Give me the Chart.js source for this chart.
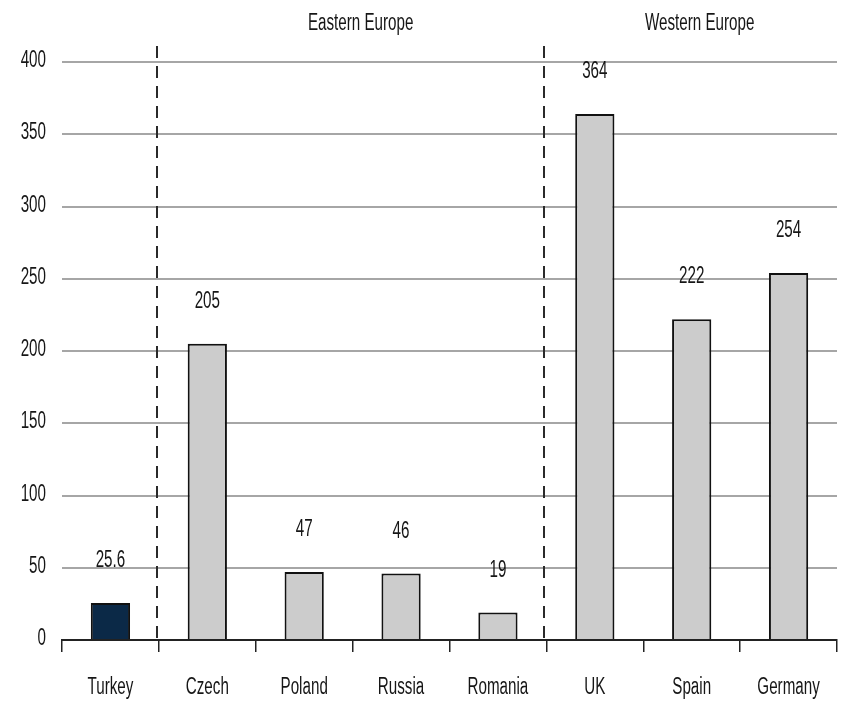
<!DOCTYPE html>
<html lang="en">
<head>
    <meta charset="UTF-8">
    <title>Eastern vs Western Europe</title>
    <script src="https://cdn.jsdelivr.net/npm/chart.js"></script>
    <style>
        html, body {
            margin: 0;
            padding: 0;
            background: #ffffff;
        }
        .chart-box {
            position: relative;
            width: 842px;
            height: 709px;
        }
    </style>
</head>
<body>
    <div class="chart-box">
        <canvas id="europeChart"></canvas>
    </div>

    <script>
        const countries = ['Turkey', 'Czech', 'Poland', 'Russia', 'Romania', 'UK', 'Spain', 'Germany'];
        const values = [25.6, 205, 47, 46, 19, 364, 222, 254];
        const yTicks = [0, 50, 100, 150, 200, 250, 300, 350, 400];
        // groups: label, first and last category index
        const groupNames = ['Eastern Europe', 'Western Europe'];
        const groupStart = [1, 5];
        const groupEnd = [4, 7];

        const FONT = '23px "Liberation Sans", Arial, sans-serif';
        const NARROW = 0.66;   // horizontal squeeze for a narrow face
        const TEXT_COLOR = '#161616';
        const barColors = countries.map(c => c === 'Turkey' ? '#0b2947' : '#cccccc');

        // narrow text: regular face squeezed horizontally
        function narrowText(ctx, text, x, y, align) {
            ctx.save();
            ctx.translate(x, y);
            ctx.scale(NARROW, 1);
            ctx.textAlign = align || 'center';
            ctx.textBaseline = 'alphabetic';
            ctx.fillText(text, 0, 0);
            ctx.restore();
        }

        const textLayer = {
            id: 'textLayer',
            afterDraw(chart) {
                const ctx = chart.ctx;
                const x = chart.scales.x;
                const y = chart.scales.y;
                const bottom = chart.chartArea.bottom;
                const half = (x.getPixelForValue(1) - x.getPixelForValue(0)) / 2;
                ctx.save();
                ctx.font = FONT;
                ctx.fillStyle = TEXT_COLOR;

                // y tick labels
                yTicks.forEach(v => {
                    narrowText(ctx, String(v), 46, y.getPixelForValue(v) + 5, 'right');
                });

                // category labels under the axis
                countries.forEach((c, i) => {
                    narrowText(ctx, c, x.getPixelForValue(i), 694);
                });

                // value labels above bars
                chart.getDatasetMeta(0).data.forEach((bar, i) => {
                    narrowText(ctx, String(values[i]), bar.x, bar.y - 36);
                });

                // dashed group dividers and group titles
                ctx.strokeStyle = '#2a2a2a';
                ctx.lineWidth = 2;
                ctx.setLineDash([12, 8]);
                groupStart.forEach(s => {
                    const px = Math.round(x.getPixelForValue(s) - half) - 2;
                    ctx.beginPath();
                    ctx.moveTo(px, 46);
                    ctx.lineTo(px, bottom);
                    ctx.stroke();
                });
                ctx.setLineDash([]);
                groupNames.forEach((name, g) => {
                    const left = x.getPixelForValue(groupStart[g]) - half;
                    const right = x.getPixelForValue(groupEnd[g]) + half;
                    narrowText(ctx, name, (left + right) / 2 + 8, 30);
                });
                ctx.restore();
            }
        };

        new Chart(document.getElementById('europeChart'), {
            type: 'bar',
            data: {
                labels: countries,
                datasets: [{
                    data: values,
                    backgroundColor: barColors,
                    borderColor: '#111111',
                    borderWidth: 2,
                    categoryPercentage: 0.81,
                    barPercentage: 0.5
                }]
            },
            options: {
                responsive: true,
                maintainAspectRatio: false,
                animation: false,
                layout: {
                    padding: { top: 62, right: 5, bottom: 0, left: 0 }
                },
                plugins: {
                    legend: { display: false },
                    tooltip: { enabled: false }
                },
                scales: {
                    x: {
                        offset: true,
                        afterFit(axis) {
                            axis.height = 69;
                        },
                        grid: {
                            offset: true,
                            drawOnChartArea: false,
                            drawTicks: true,
                            tickLength: 12,
                            color: '#222',
                            lineWidth: 1.5
                        },
                        border: { display: true, color: '#222', width: 2 },
                        ticks: { display: false }
                    },
                    y: {
                        min: 0,
                        max: 400,
                        afterBuildTicks(axis) {
                            axis.ticks = yTicks.map(v => ({ value: v }));
                        },
                        afterFit(axis) {
                            axis.width = 62;
                        },
                        grid: {
                            color: '#a6a6a6',
                            lineWidth: 2,
                            drawTicks: false
                        },
                        border: { display: false },
                        ticks: { display: false }
                    }
                }
            },
            plugins: [textLayer]
        });
    </script>
</body>
</html>
